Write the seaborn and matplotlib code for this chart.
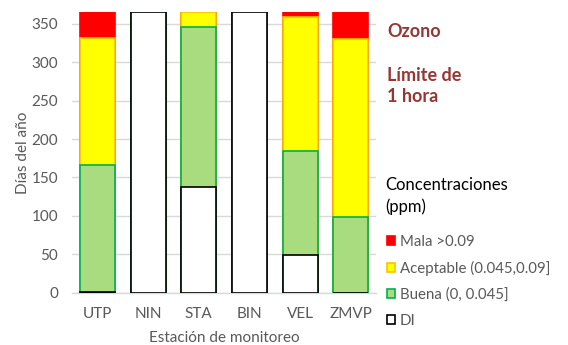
import matplotlib
matplotlib.use("Agg")
import matplotlib.pyplot as plt
from matplotlib.patches import Patch
import numpy as np
import pandas as pd
import seaborn as sns

# Days per station in each ozone category (1-hour limit)
estaciones = ["UTP", "NIN", "STA", "BIN", "VEL", "ZMVP"]
di = [1, 365, 137, 365, 49, 0]
buena = [165, 0, 209, 0, 136, 99]
aceptable = [165, 0, 19, 0, 174, 231]
mala = [34, 0, 0, 0, 6, 35]

labels = ["Mala >0.09", "Aceptable (0.045,0.09]", "Buena (0, 0.045]", "DI"]
fills = ["#FF0000", "#FFFF00", "#A9DC7E", "#FFFFFF"]
edges = ["#FF0000", "#FFC000", "#00B050", "#000000"]

sns.set_theme(style="white")
plt.rcParams["font.family"] = ["Lato", "DejaVu Sans"]

gray = "#595959"
fig = plt.figure(figsize=(5.68, 3.45), dpi=100)
ax = fig.add_axes([0.127, 0.151, 0.535, 0.814])

# Stacked bars drawn as overlapping cumulative totals, top layer first
segments = [di, buena, aceptable, mala]
cum = np.cumsum(np.array(segments, dtype=float), axis=0)
df = pd.DataFrame({"estacion": estaciones})
for level in range(3, -1, -1):
    k = 3 - level  # index into legend-ordered styles
    df["total"] = cum[level]
    sns.barplot(data=df, x="estacion", y="total", color=fills[k],
                edgecolor=edges[k], linewidth=1.2, width=0.69,
                saturation=1, ax=ax, zorder=3)

ax.set_ylim(0, 365)
ax.set_xlim(-0.5, 5.5)
ax.set_yticks(range(0, 351, 50))
ax.yaxis.grid(True, color="#D9D9D9", linewidth=1.0, zorder=0)
ax.set_axisbelow(True)
for s in ["top", "right", "left"]:
    ax.spines[s].set_visible(False)
ax.spines["bottom"].set_color("#D9D9D9")
ax.spines["bottom"].set_linewidth(1.0)
ax.tick_params(axis="x", colors=gray, labelsize=11, length=0, pad=10)
ax.tick_params(axis="y", colors=gray, labelsize=11, length=0, pad=10)
ax.set_xlabel("Estación de monitoreo", color=gray, fontsize=11, labelpad=7)
ax.set_ylabel("Días del año", color=gray, fontsize=11, labelpad=1)

title_color = "#963634"
fig.text(0.682, 0.91, "Ozono", color=title_color, fontsize=13, fontweight="bold", va="center")
fig.text(0.682, 0.75, "Límite de\n1 hora", color=title_color, fontsize=13, fontweight="bold",
         va="center", linespacing=1.32)

# Legend heading and entries
fig.text(0.678, 0.432, "Concentraciones\n(ppm)", color="black", fontsize=12,
         va="center", ha="left", linespacing=1.35)
handles = [Patch(facecolor=f, edgecolor=e, linewidth=1.2) for f, e in zip(fills, edges)]
leg = fig.legend(handles, labels, loc="upper left", bbox_to_anchor=(0.681, 0.32),
                 frameon=False, fontsize=10.8, borderpad=0, borderaxespad=0,
                 handlelength=0.55, handleheight=0.55, handletextpad=0.3,
                 labelspacing=0.8)
for t in leg.get_texts():
    t.set_color(gray)

fig.savefig("out.png", dpi=100)
